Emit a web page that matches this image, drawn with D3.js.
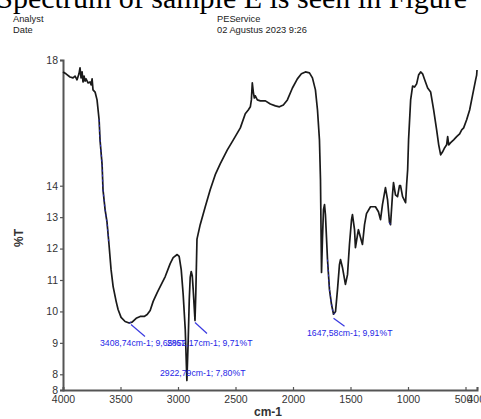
<!DOCTYPE html>
<html><head><meta charset="utf-8">
<script src="https://cdn.jsdelivr.net/npm/d3@7"></script>
<style>
html,body{margin:0;padding:0;background:#fff;overflow:hidden}
svg{display:block}
</style></head>
<body>
<svg id="c" width="481" height="419"></svg>
<script>
// ---- data ----
const wavenumbers = [4000,3974,3939,3913,3895,3878,3861,3852,3843,3834,3826,3817,3808,3800,3782,3765,3756,3747,3739,3721,3704,3686,3678,3660,3652,3634,3617,3600,3582,3564,3538,3521,3495,3460,3425,3408.74,3399,3364,3329,3294,3268,3242,3216,3181,3155,3111,3068,3042,3007,2990,2972,2955,2937,2922.79,2911,2902,2894,2885,2876,2868,2852.17,2845,2835,2807,2763,2720,2676,2632,2571,2519,2458,2415,2389,2371,2362,2354,2345,2336,2328,2310,2284,2240,2197,2153,2118,2084,2049,2005,1962,1927,1892,1857,1831,1805,1787,1770,1761,1752,1744,1735,1726,1718,1700,1683,1665,1647.58,1630,1613,1596,1587,1570,1544,1526,1509,1491,1483,1465,1457,1439,1431,1413,1396,1378,1361,1326,1283,1257,1239,1222,1196,1178,1161,1152,1135,1126,1109,1091,1074,1065,1047,1021,1012,1003,995,977,960,943,925,908,890,873,855,829,803,777,751,733,716,699,681,664,655,646,629,603,577,551,533,516,490,464,438,412,403,400];
const transmittance = [17.62,17.56,17.46,17.43,17.49,17.37,17.56,17.75,17.43,17.62,17.30,17.49,17.33,17.40,17.27,17.30,17.21,17.40,17.05,16.98,16.73,16.10,15.46,14.67,13.87,13.24,12.83,12.13,11.33,10.79,10.32,10.06,9.81,9.68,9.63,9.65,9.66,9.78,9.84,9.84,9.90,10.03,10.32,10.60,10.79,11.11,11.52,11.71,11.81,11.75,11.33,10.54,9.43,7.80,9.11,10.38,11.08,11.27,11.14,10.70,9.71,10.60,12.30,12.76,13.33,13.87,14.35,14.70,15.14,15.46,15.84,16.29,16.41,16.51,16.73,17.27,16.98,16.79,16.86,16.73,16.70,16.70,16.60,16.54,16.51,16.57,16.73,17.11,17.40,17.56,17.62,17.59,17.43,17.05,16.41,15.46,14.19,11.24,12.29,13.24,13.40,13.08,11.65,10.70,10.22,9.91,10.00,10.70,11.49,11.65,11.40,10.86,11.17,12.13,12.92,13.08,12.60,12.03,12.44,12.60,12.35,12.13,12.76,13.11,13.33,13.33,13.17,12.92,13.40,13.94,13.56,12.83,12.76,13.71,14.10,13.71,13.65,14.00,14.00,13.65,13.46,14.03,14.51,15.46,16.73,17.17,17.14,17.24,17.52,17.62,17.56,17.37,17.11,16.98,16.41,15.78,15.30,14.98,15.08,15.21,15.30,15.56,15.30,15.37,15.46,15.56,15.65,15.78,15.84,16.10,16.41,16.89,17.37,17.52,17.68];

const xTicks = [4000,3500,3000,2500,2000,1500,1000,500,400];
const yTicks = [7.5,8,9,10,11,12,13,14,18];

const peakWn = [3408.74, 2852.17, 2922.79, 1647.58];
const peakT = [9.65, 9.71, 7.80, 9.91];
const peakLabels = ["3408,74cm-1; 9,65%T","2852,17cm-1; 9,71%T","2922,79cm-1; 7,80%T","1647,58cm-1; 9,91%T"];

const blueRanges = [[3700,3600],[3450,3380],[1700,1620],[1250,1232],[1168,1148]];

const headerLeft = ["Analyst","Date"];
const headerRight = ["PEService","02 Agustus 2023 9:26"];
const captionText = "Spectrum of sample E is seen in Figure";

// ---- drawing ----
const svg = d3.select("#c");
const x = d3.scaleLinear().domain([4000,400]).range([63,477]);
const y = d3.scaleLinear().domain([7.5,18]).range([390,60]);

svg.append("text").attr("x",467).attr("y",8).attr("text-anchor","end")
  .attr("font-family","Liberation Serif, Times New Roman, serif").attr("font-size",30)
  .attr("fill","#000").text(captionText);

const hf = "Liberation Sans, Arial, sans-serif";
headerLeft.forEach((t,i)=>svg.append("text").attr("x",13).attr("y",22+i*11)
  .attr("font-family",hf).attr("font-size",9.3).attr("fill","#222").text(t));
headerRight.forEach((t,i)=>svg.append("text").attr("x",217).attr("y",22+i*11)
  .attr("font-family",hf).attr("font-size",9.3).attr("fill","#222").text(t));

// axes
const xAxis = d3.axisBottom(x).tickValues(xTicks).tickFormat(d3.format("d")).tickSize(-3).tickPadding(6);
const gx = svg.append("g").attr("transform","translate(0,390)").call(xAxis);
gx.selectAll(".tick text")
  .attr("text-anchor",d=>d===500?"end":d===400?"start":"middle")
  .attr("dx",d=>d===500?"0.6em":d===400?"-0.95em":0);
const yAxis = d3.axisLeft(y).tickValues(yTicks).tickFormat(d3.format(".0f")).tickSize(3).tickPadding(2);
const gy = svg.append("g").attr("transform","translate(63,0)").call(yAxis);
[gx,gy].forEach(g=>{
  g.select(".domain").attr("stroke","#555").attr("stroke-width",2);
  g.selectAll(".tick line").attr("stroke","#555").attr("stroke-width",1.2);
  g.selectAll(".tick text").attr("font-family",hf).attr("font-size",10.5).attr("fill","#333");
});

svg.append("text").attr("transform","translate(23,238) rotate(-90)").attr("text-anchor","middle")
  .attr("font-family",hf).attr("font-size",12).attr("font-weight","bold").attr("fill","#333").text("%T");
svg.append("text").attr("x",268).attr("y",416).attr("text-anchor","middle")
  .attr("font-family",hf).attr("font-size",12).attr("font-weight","bold").attr("fill","#333").text("cm-1");

// spectrum
const pts = wavenumbers.map((w,i)=>[w,transmittance[i]]);
const line = d3.line().x(d=>x(d[0])).y(d=>y(d[1]));
svg.append("path").datum(pts).attr("d",line).attr("fill","none")
  .attr("stroke","#1a1a1a").attr("stroke-width",1.7).attr("stroke-linejoin","round");
blueRanges.forEach(r=>{
  const seg = pts.filter(p=>p[0]<=r[0]&&p[0]>=r[1]);
  svg.append("path").datum(seg).attr("d",line).attr("fill","none")
    .attr("stroke","#2a2ad0").attr("stroke-width",1).attr("stroke-dasharray","2,3");
});

// peak annotations
const labelPos = [[100,346],[167,346],[160,376],[307,336]];
const leaderOff = [[0,2,14,14],[0,2,12,13],[0,0,3,-5],[0,4,11,12]];
peakWn.forEach((w,i)=>{
  const px = x(w), py = y(peakT[i]);
  const o = leaderOff[i];
  if(i!==2) svg.append("line").attr("x1",px+o[0]).attr("y1",py+o[1]).attr("x2",px+o[2]).attr("y2",py+o[3])
    .attr("stroke","#3a3ae0").attr("stroke-width",1.2);
  svg.append("text").attr("x",labelPos[i][0]).attr("y",labelPos[i][1])
    .attr("font-family",hf).attr("font-size",8.7).attr("fill","#2626e6").text(peakLabels[i]);
});
</script>
</body></html>
